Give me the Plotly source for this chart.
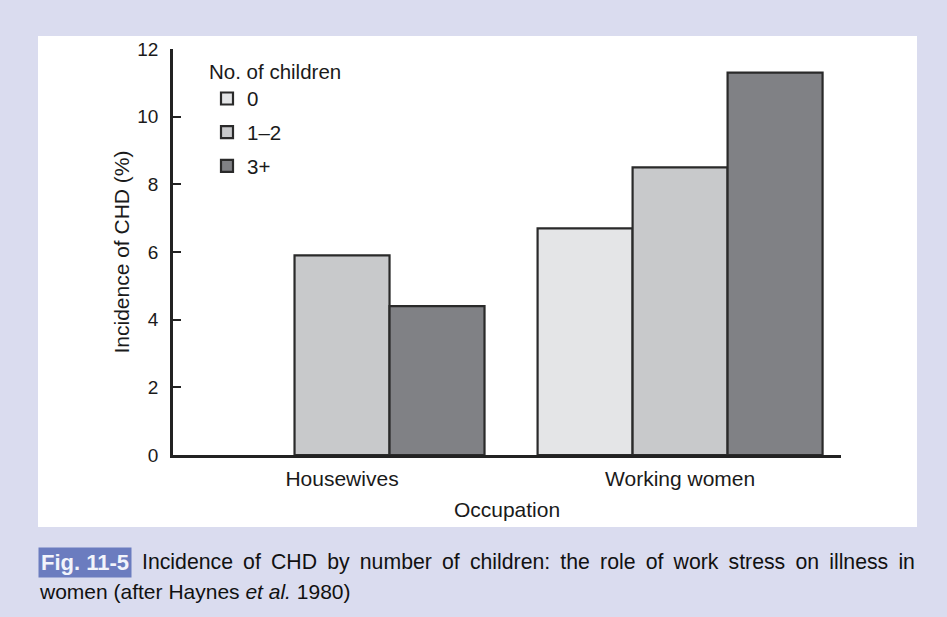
import plotly.graph_objects as go

occupations = ["Housewives", "Working women"]
series_names = ["0", "1\u20132", "3+"]
values_0 = [None, 6.7]
values_12 = [5.9, 8.5]
values_3p = [4.4, 11.3]
bar_colors = ["#e4e5e7", "#c8c9cb", "#808185"]
y_ticks = [0, 2, 4, 6, 8, 10, 12]

FONT = "Liberation Sans, Arial, sans-serif"
fig = go.Figure()
for name, vals, col in zip(series_names, [values_0, values_12, values_3p], bar_colors):
    fig.add_trace(go.Bar(
        x=occupations, y=vals, name=name, legendgroup=name,
        marker=dict(color=col, line=dict(color="#2a2a2a", width=2.2)),
    ))

L, R, T, B = 173, 106, 49, 162
W, H = 947, 617
pw, ph = W - L - R, H - T - B

def px(x):
    return (x - L) / pw

def py(y):
    return (T + ph - y) / ph

# white panel
fig.add_shape(type="rect", xref="paper", yref="paper",
              x0=px(38), x1=px(917), y0=py(527), y1=py(36),
              fillcolor="white", line=dict(width=0), layer="below")

# caption
caption1 = "Incidence of CHD by number of children: the role of work stress on illness in"
fig.add_annotation(xref="paper", yref="paper", x=px(38), y=py(562),
                   xanchor="left", yanchor="middle", showarrow=False,
                   text="<b>Fig. 11-5</b>", bgcolor="#6b7cbf", borderpad=2,
                   font=dict(family=FONT, size=22, color="#f2f4fb"))
fig.add_annotation(xref="paper", yref="paper", x=px(140), y=py(562),
                   xanchor="left", yanchor="middle", showarrow=False,
                   text=caption1.replace(" ", " \u2009"),
                   font=dict(family=FONT, size=21.25, color="#111"))
fig.add_annotation(xref="paper", yref="paper", x=px(37), y=py(591),
                   xanchor="left", yanchor="middle", showarrow=False,
                   text="women (after Haynes <i>et al.</i> 1980)",
                   font=dict(family=FONT, size=21, color="#111"))

fig.update_layout(
    width=W, height=H,
    margin=dict(l=L, r=R, t=T, b=B, pad=0),
    paper_bgcolor="#dadcef", plot_bgcolor="white",
    barmode="group", bargap=0.157, bargroupgap=0,
    font=dict(family=FONT, size=19, color="#1a1a1a"),
    showlegend=True,
    legend=dict(
        title=dict(text="No. of children", font=dict(size=20.5)),
        x=px(207), y=py(52), xanchor="left", yanchor="top",
        bgcolor="rgba(0,0,0,0)", font=dict(size=20.5),
        tracegroupgap=4, itemwidth=30,
    ),
    xaxis=dict(
        range=[-0.5, 1.476], showline=True, linecolor="#222", linewidth=2.5,
        ticks="", showgrid=False, zeroline=False,
        tickfont=dict(size=21), ticklabelstandoff=3,
        title=dict(text="Occupation", font=dict(size=21), standoff=14),
    ),
    yaxis=dict(
        range=[0, 12], tickvals=y_ticks, showline=True, linecolor="#222", linewidth=2.5,
        ticks="inside", ticklen=8, tickwidth=1.5, tickcolor="#222",
        showgrid=False, zeroline=False,
        tickfont=dict(size=19), ticklabelstandoff=8,
        title=dict(text="Incidence of CHD (%)", font=dict(size=21), standoff=2),
    ),
)

fig.write_html("out.html", config={"displayModeBar": False},
               post_script="document.body.style.margin='0';")
